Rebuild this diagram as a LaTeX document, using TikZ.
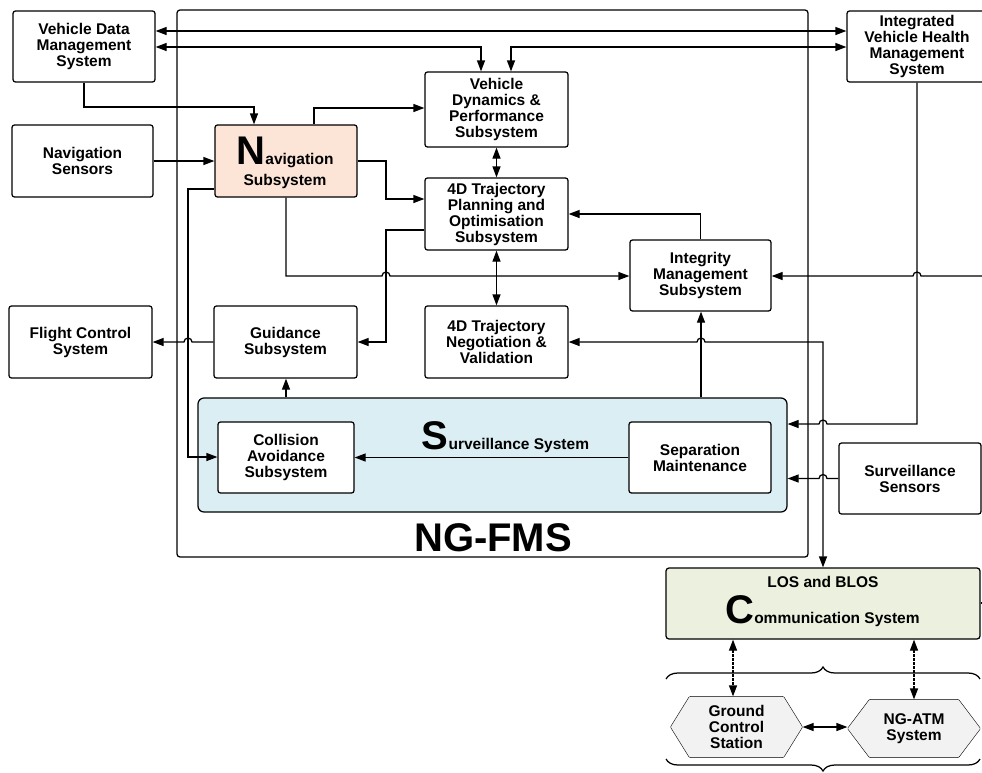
\documentclass[tikz,border=0pt]{standalone}
\usepackage{fontspec}
\setmainfont{Liberation Sans}
\usetikzlibrary{arrows.meta,decorations.pathreplacing,backgrounds}
\definecolor{navc}{RGB}{252,229,214}
\definecolor{survc}{RGB}{218,238,243}
\definecolor{commc}{RGB}{235,241,222}
\definecolor{hexc}{RGB}{242,242,242}
\newcommand{\bigletter}[1]{{\fontsize{40}{40}\selectfont #1}}
\begin{document}
\begin{tikzpicture}[x=1pt,y=-1pt, line width=1.25pt,
 box/.style={draw, fill=white, rounded corners=2.5pt, align=center, inner sep=0pt, font=\bfseries\fontsize{15.5}{16}\selectfont},
 hexn/.style={align=center, inner sep=0pt, font=\bfseries\fontsize{15.5}{16}\selectfont},
 lbl/.style={font=\bfseries\fontsize{15.5}{16}\selectfont, inner sep=0pt, anchor=base},
 arr/.style={-{Triangle[length=11pt,width=8pt]}},
 darr/.style={{Triangle[length=11pt,width=8pt]}-{Triangle[length=11pt,width=8pt]}},
 dotarr/.style={darr, dash pattern=on 2.5pt off 1.5pt},
 bracestyle/.style={decorate, decoration={brace, amplitude=12pt}}]
\useasboundingbox (0,0) rectangle (982,772);
\clip (0,0) rectangle (982,772);

% NG-FMS frame
\node[draw, rounded corners=3pt, minimum width=631pt, minimum height=547pt, inner sep=0pt] (ngfms) at (492.5,283.5) {};
\node[lbl, font=\bfseries\fontsize{40}{40}\selectfont] (ngt) at (493,551) {NG-FMS};

% boxes
\node[box, minimum width=142pt, minimum height=71pt] (vdms) at (84,46.5) {Vehicle Data\\Management\\System};
\node[box, minimum width=140pt, minimum height=71pt] (ivhms) at (917,46.5) {Integrated\\Vehicle Health\\Management\\System};
\node[box, minimum width=141pt, minimum height=72pt] (navs) at (82.5,161) {Navigation\\Sensors};
\node[box, fill=navc, minimum width=142pt, minimum height=72pt] (nav) at (286,161) {};
\node[lbl] (navt1) at (285,164) {\bigletter{N}avigation};
\node[lbl] (navt2) at (285,185) {Subsystem};
\node[box, minimum width=143pt, minimum height=75pt] (vd) at (496.5,109.5) {Vehicle\\Dynamics \&\\Performance\\Subsystem};
\node[box, minimum width=143pt, minimum height=72pt] (tp) at (496.5,214) {4D Trajectory\\Planning and\\Optimisation\\Subsystem};
\node[box, minimum width=143pt, minimum height=72pt] (tn) at (496.5,342) {4D Trajectory\\Negotiation \&\\Validation};
\node[box, minimum width=141pt, minimum height=71pt] (im) at (700.5,275.5) {Integrity\\Management\\Subsystem};
\node[box, minimum width=143pt, minimum height=72pt] (gd) at (285.5,342) {Guidance\\Subsystem};
\node[box, minimum width=143pt, minimum height=72pt] (fcs) at (80.5,342) {Flight Control\\System};
\node[draw, fill=survc, rounded corners=6pt, minimum width=589pt, minimum height=114pt, inner sep=0pt] (surv) at (492.5,455) {};
\node[lbl] (survt) at (505.5,449) {\bigletter{S}urveillance System};
\node[box, minimum width=136pt, minimum height=71pt] (ca) at (286,457.5) {Collision\\Avoidance\\Subsystem};
\node[box, minimum width=142pt, minimum height=71pt] (sm) at (700,457.5) {Separation\\Maintenance};
\node[box, minimum width=142pt, minimum height=71pt] (ss) at (910,478.5) {Surveillance\\Sensors};
\node[draw, fill=commc, rounded corners=3pt, minimum width=314pt, minimum height=71pt, inner sep=0pt] (comm) at (823,603.5) {};
\node[lbl] (commt1) at (823,587) {LOS and BLOS};
\node[lbl] (commt2) at (822.5,623) {\bigletter{C}ommunication System};

% hexagons
\node[hexn, minimum width=131pt, minimum height=60pt] (gcs) at (736.5,727) {Ground\\Control\\Station};
\node[hexn, minimum width=132pt, minimum height=57pt] (atm) at (914,728.5) {NG-ATM\\System};
\begin{scope}[on background layer]
\draw[fill=hexc, rounded corners=1pt] (gcs.west) -- ([xshift=19pt]gcs.north west) -- ([xshift=-19pt]gcs.north east) -- (gcs.east) -- ([xshift=-19pt]gcs.south east) -- ([xshift=19pt]gcs.south west) -- cycle;
\draw[fill=hexc, rounded corners=1pt] (atm.west) -- ([xshift=22pt]atm.north west) -- ([xshift=-22pt]atm.north east) -- (atm.east) -- ([xshift=-22pt]atm.south east) -- ([xshift=22pt]atm.south west) -- cycle;
\end{scope}

% connectors
\draw[darr] (vdms.east |- 0,31) -- (ivhms.west |- 0,31);
\draw[darr] (vdms.east |- 0,47) -| (481,0 |- vd.north);
\draw[darr] (511,0 |- vd.north) |- (ivhms.west |- 0,47);
\draw[arr] (vdms.south) |- (254,107) -- (254,0 |- nav.north);
\draw[arr] (314,0 |- nav.north) |- (vd.west |- 0,108);
\draw[arr] (navs) -- (nav);
\draw[arr] (nav.east) -| (386,199) -- (tp.west |- 0,199);
\draw[arr] (tp.west |- 0,230) -| (386,342) -- (gd.east);
\draw[arr] (286,0 |- nav.south) -- (286,276) -- (382,276) arc[start angle=180,end angle=0,radius=4pt] -- (im.west |- 0,276);
\draw[arr] (im.north) |- (tp.east |- 0,214);
\coordinate (redge) at (982,276);
\draw[arr] (redge) -- (921,276) arc[start angle=0,end angle=180,radius=4pt] -- (im.east |- 0,276);
\draw[darr] (vd.south) -- (tp.north);
\draw[darr] (tp.south) -- (tn.north);
\draw[darr] (823,0 |- comm.north) -- (823,342) -- (705,342) arc[start angle=0,end angle=180,radius=4pt] -- (tn.east);
\draw[arr] (701,0 |- surv.north) -- (701,0 |- im.south);
\draw[arr] (ivhms.south) -- (917,424) -- (827,424) arc[start angle=0,end angle=180,radius=4pt] -- (surv.east |- 0,424);
\draw[arr] (ss.west) -- (827,0 |- ss.west) arc[start angle=0,end angle=180,radius=4pt] -- (surv.east |- ss.west);
\draw[arr] (286,0 |- surv.north) -- (286,0 |- gd.south);
\draw[arr] (gd.west) -- (192,342) arc[start angle=0,end angle=180,radius=4pt] -- (fcs.east);
\draw[arr] (nav.west |- 0,189) -| (188,457) -- (ca.west |- 0,457);
\draw[arr] (sm) -- (ca);
\draw[dotarr] (733,0 |- comm.south) -- (733,0 |- gcs.north);
\draw[dotarr] (914,0 |- comm.south) -- (914,0 |- atm.north);
\draw[darr] (gcs.east) -- (atm.west |- gcs.east);
\coordinate (redge2) at (982,603);
\draw (comm.east |- 0,603) -- (redge2);

% braces
\draw[bracestyle] (666,679) -- (980,679);
\draw[bracestyle] (980,759) -- (666,759);
\end{tikzpicture}
\end{document}
